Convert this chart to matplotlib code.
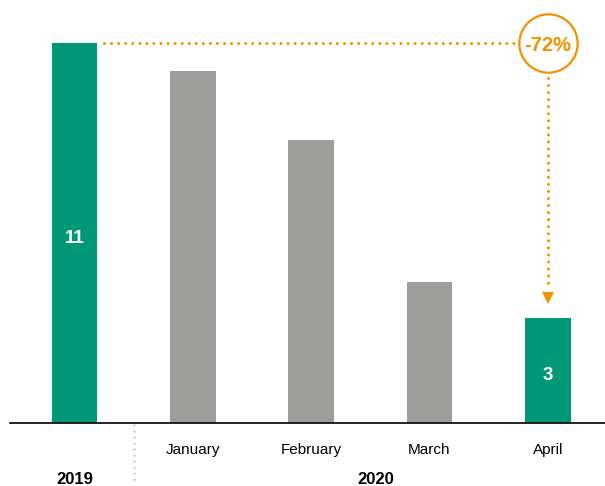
import matplotlib.pyplot as plt
from matplotlib import font_manager

categories = ["2019", "January", "February", "March", "April"]
values = [11, 10.2, 8.2, 4.1, 3.05]
bar_labels = ["11", "", "", "", "3"]
groups = ["2019", "2020"]
change_label = "-72%"

green = "#009877"
grey = "#9d9d9c"
orange = "#f39200"

names = {f.name for f in font_manager.fontManager.ttflist}
family = ["Liberation Sans Narrow", "DejaVu Sans"] if "Liberation Sans Narrow" in names else ["Liberation Sans", "DejaVu Sans"]
plt.rcParams["font.family"] = family

fig = plt.figure(figsize=(6.05, 4.86), dpi=100)
ax = fig.add_axes([0, 0, 1, 1])
ax.set_xlim(-0.63, 4.484)
ax.set_ylim(-1.826, 12.26)
ax.axis("off")

x = list(range(len(categories)))
colors = [green if c in ("2019", "April") else grey for c in categories]
ax.bar(x, values, width=0.385, color=colors, zorder=2)

for xi, v, lab in zip(x, values, bar_labels):
    if lab:
        ax.text(xi, v / 2 - 0.14, lab, color="white", fontsize=13.5, fontweight="bold",
                ha="center", va="center", zorder=3)

# baseline
ax.plot([-0.545, 4.484], [0, 0], color="black", lw=1.2, zorder=3)

# month labels
for xi, c in zip(x[1:], categories[1:]):
    ax.text(xi, -0.77, c, fontsize=11, ha="center", va="center")

# group labels
ax.text(0, -1.64, groups[0], fontsize=12, fontweight="bold", ha="center", va="center")
ax.text(2.55, -1.64, groups[1], fontsize=12, fontweight="bold", ha="center", va="center")

# separator
ax.plot([0.5, 0.5], [-0.05, -1.65], color="#cccccc", lw=1.8,
        linestyle=(0, (0.01, 2.4)), dash_capstyle="round")

# change annotation
top = values[0]
dots = dict(color=orange, lw=2.2, linestyle=(0, (0.01, 2.3)), dash_capstyle="round")
ax.plot([0.25, 3.74], [top, top], **dots)
ax.plot([4, 4], [10.0, 3.9], **dots)
ax.plot([4], [3.62], marker="v", color=orange, markersize=8, markeredgewidth=0)
ax.plot([4], [top], marker="o", markersize=42, markerfacecolor="white",
        markeredgecolor=orange, markeredgewidth=1.6, zorder=4)
ax.text(4, top - 0.05, change_label, color=orange, fontsize=14.5, fontweight="bold",
        ha="center", va="center", zorder=5)

fig.savefig("out.png", dpi=100)
